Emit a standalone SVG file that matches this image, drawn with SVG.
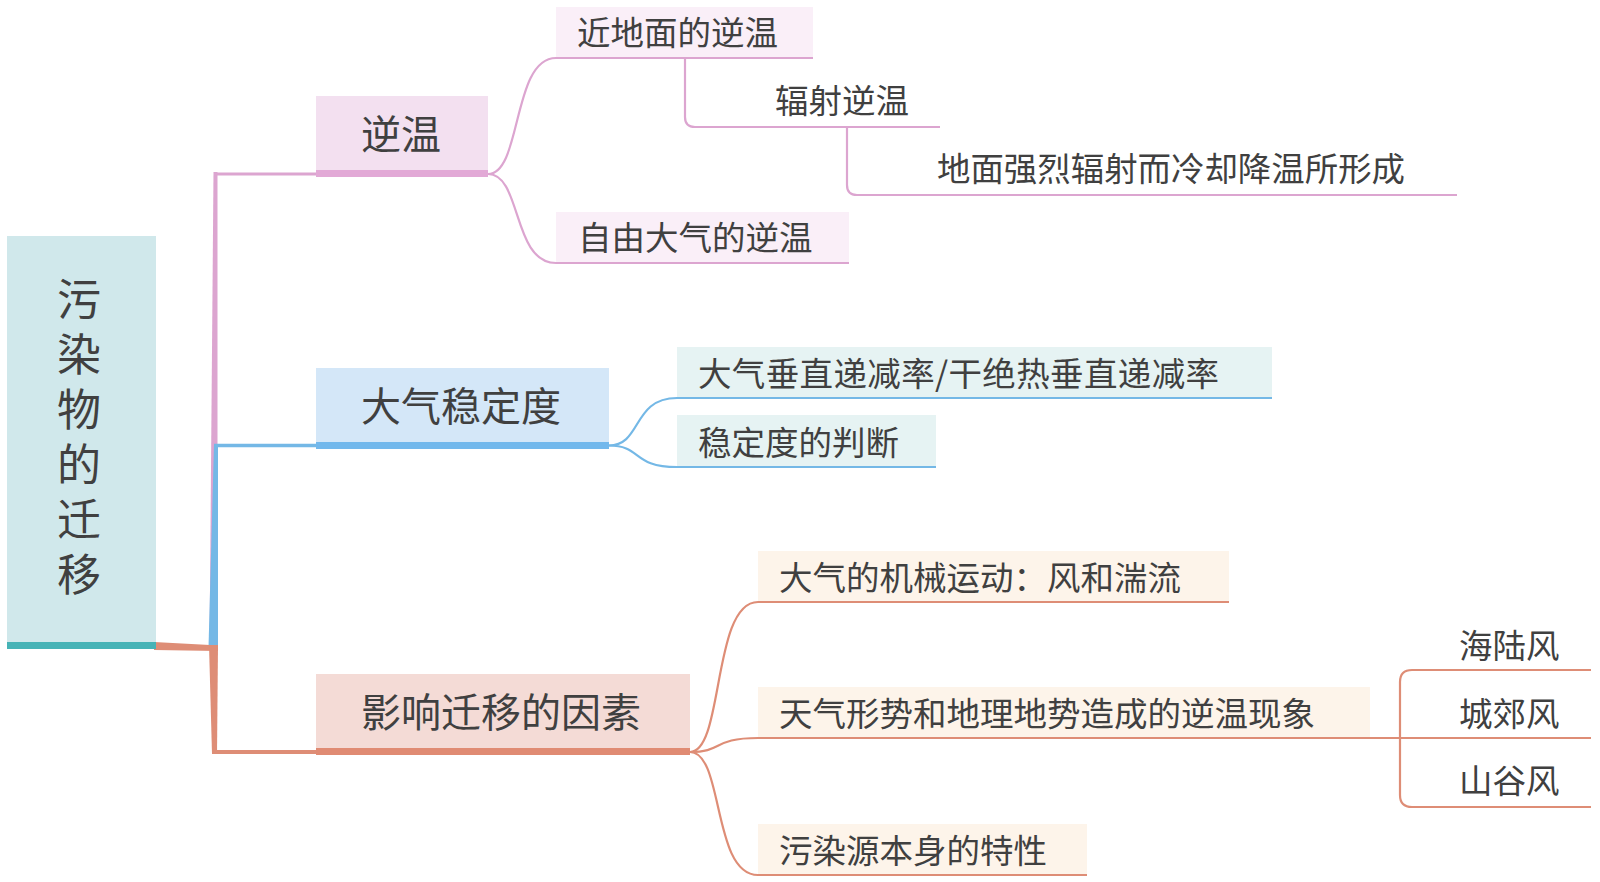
<svg xmlns="http://www.w3.org/2000/svg" width="1600" height="882" viewBox="0 0 1600 882">
<style>
text{font-family:"Noto Sans CJK SC","Noto Sans",sans-serif;fill:#404040}
.main{font-size:40px}
.sub{font-size:33.5px}
.root{font-size:44px}
.pl{stroke:#dca5d0;fill:none;stroke-width:2.2}
.bl{stroke:#74b8e6;fill:none;stroke-width:2.2}
.ol{stroke:#de8d76;fill:none;stroke-width:2.2}
</style>
<rect width="1600" height="882" fill="#ffffff"/>
<g id="connectors">
<polygon points="209.5,648 213.5,172 217.5,172 217.5,648" fill="#dca5d0"/>
<line x1="214" y1="174" x2="317" y2="174" stroke="#dca5d0" stroke-width="3"/>
<polygon points="208.5,648 214,444 218,444 218,648" fill="#74b8e6"/>
<line x1="214" y1="445.5" x2="317" y2="445.5" stroke="#74b8e6" stroke-width="3.5"/>
<polygon points="154,642 210,645 218,645 218,651 154,650" fill="#de8d76"/>
<polygon points="209,645 218,645 217,754 212,754" fill="#de8d76"/>
<line x1="212" y1="752" x2="317" y2="752" stroke="#de8d76" stroke-width="4"/>
<path class="pl" d="M488,174 C522,174 512,58 556,58"/>
<path class="pl" d="M488,174 C522,174 512,263 556,263"/>
<path class="pl" d="M685,58 L685,117 Q685,127 695,127 L940,127"/>
<path class="pl" d="M847,127 L847,185 Q847,195 857,195 L1457,195"/>
<path class="bl" d="M609,445.5 C642,445.5 632,398 677,398"/>
<path class="bl" d="M609,445.5 C642,445.5 632,467 677,467"/>
<path class="ol" d="M690,752 C724,752 712,602 758,602"/>
<path class="ol" d="M690,752 C724,752 712,738 758,738"/>
<path class="ol" d="M690,752 C724,752 712,875 758,875"/>
<path class="ol" d="M1370,738 L1591,738"/>
<path class="ol" d="M1591,670 L1412,670 Q1400,670 1400,682 L1400,795 Q1400,807 1412,807 L1591,807"/>
</g>
<g id="root">
<rect x="7" y="236" width="149" height="406" fill="#d0e8eb"/>
<rect x="7" y="642" width="149" height="7" fill="#46b3b6"/>
<text class="root" x="79" y="277" writing-mode="vertical-rl" style="letter-spacing:11px">污染物的迁移</text>
</g>
<g id="nixun">
<rect x="316" y="96" width="172" height="74" fill="#f3e0f0"/>
<rect x="316" y="170" width="172" height="7" fill="#e2a9d6"/>
<text class="main" x="361" y="149">逆温</text>
</g>
<g id="jindimian">
<rect x="556" y="7" width="257" height="51" fill="#faeff8"/>
<line x1="556" y1="58" x2="813" y2="58" class="pl"/>
<text class="sub" x="577" y="45">近地面的逆温</text>
</g>
<g id="fushe">
<text class="sub" x="775" y="113">辐射逆温</text>
</g>
<g id="dimian">
<text class="sub" x="937" y="181" textLength="468" lengthAdjust="spacingAndGlyphs">地面强烈辐射而冷却降温所形成</text>
</g>
<g id="ziyou">
<rect x="556" y="212" width="293" height="51" fill="#faeff8"/>
<line x1="556" y1="263" x2="849" y2="263" class="pl"/>
<text class="sub" x="578" y="250">自由大气的逆温</text>
</g>
<g id="wending">
<rect x="316" y="368" width="293" height="74" fill="#d4e7f8"/>
<rect x="316" y="442" width="293" height="7" fill="#72b8ec"/>
<text class="main" x="361" y="421">大气稳定度</text>
</g>
<g id="chuizhi">
<rect x="677" y="347" width="595" height="51" fill="#e6f3f3"/>
<line x1="677" y1="398" x2="1272" y2="398" class="bl"/>
<text class="sub" x="698" y="386" textLength="521" lengthAdjust="spacing">大气垂直递减率/干绝热垂直递减率</text>
</g>
<g id="panduan">
<rect x="677" y="415" width="259" height="52" fill="#e6f3f3"/>
<line x1="677" y1="467" x2="936" y2="467" class="bl"/>
<text class="sub" x="698" y="455">稳定度的判断</text>
</g>
<g id="yingxiang">
<rect x="316" y="674" width="374" height="74" fill="#f4dbd6"/>
<rect x="316" y="748" width="374" height="7" fill="#e08b73"/>
<text class="main" x="361" y="727">影响迁移的因素</text>
</g>
<g id="jixie">
<rect x="758" y="551" width="471" height="51" fill="#fdf4ea"/>
<line x1="758" y1="602" x2="1229" y2="602" class="ol"/>
<text class="sub" x="779" y="590">大气的机械运动：风和湍流</text>
</g>
<g id="tianqi">
<rect x="758" y="687" width="612" height="51" fill="#fdf4ea"/>
<line x1="758" y1="738" x2="1370" y2="738" class="ol"/>
<text class="sub" x="779" y="726">天气形势和地理地势造成的逆温现象</text>
</g>
<g id="wuranyuan">
<rect x="758" y="824" width="329" height="51" fill="#fdf4ea"/>
<line x1="758" y1="875" x2="1087" y2="875" class="ol"/>
<text class="sub" x="779" y="863">污染源本身的特性</text>
</g>
<g id="hailufeng"><text class="sub" x="1459" y="658">海陆风</text></g>
<g id="chengjiaofeng"><text class="sub" x="1459" y="726">城郊风</text></g>
<g id="shangufeng"><text class="sub" x="1459" y="793">山谷风</text></g>
</svg>
